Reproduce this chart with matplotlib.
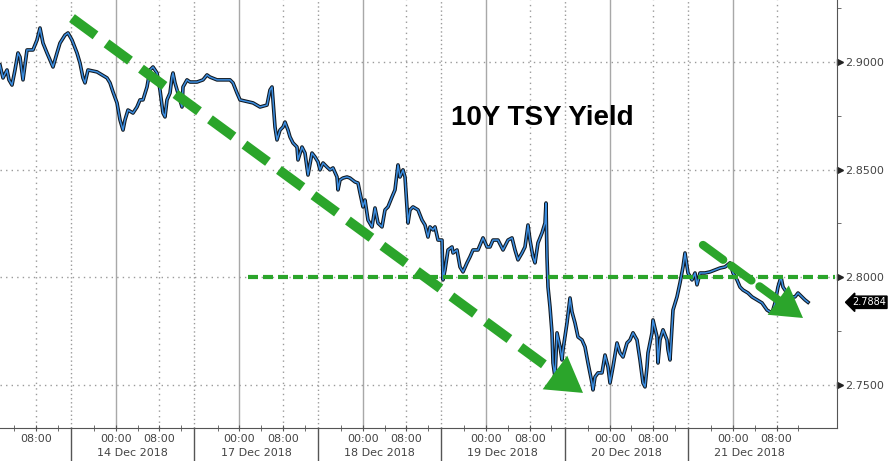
import matplotlib.pyplot as plt
import numpy as np

# 10Y Treasury yield, intraday; x = bar index on a gap-free trading-time axis
bars = [0, 3, 7, 9, 12, 15, 18, 20, 23, 27, 33, 37, 40, 43, 47, 53, 57, 60, 65, 68,
        72, 77, 80, 83, 85, 88, 97, 107, 110, 113, 117, 120, 123, 125, 128, 133, 137, 140, 143, 147,
        150, 153, 157, 160, 163, 165, 167, 170, 172, 173, 175, 180, 182, 183, 187, 190, 197, 203, 207, 210,
        217, 230, 233, 237, 240, 253, 260, 267, 270, 272, 273, 275, 277, 280, 283, 285, 288, 290, 293, 297,
        298, 302, 305, 308, 312, 315, 318, 320, 323, 327, 330, 333, 337, 338, 340, 343, 347, 350, 355, 358,
        360, 363, 365, 368, 372, 375, 378, 382, 385, 388, 392, 395, 398, 400, 403, 405, 408, 410, 413, 418,
        422, 425, 428, 430, 433, 435, 438, 442, 443, 445, 448, 452, 453, 457, 460, 463, 467, 470, 473, 478,
        483, 487, 490, 493, 498, 503, 508, 512, 515, 518, 522, 525, 528, 530, 533, 535, 538, 542, 545, 546,
        547, 548, 550, 552, 553, 555, 557, 560, 562, 563, 567, 570, 572, 575, 578, 582, 585, 588, 592, 593,
        595, 598, 602, 605, 608, 610, 613, 617, 620, 623, 627, 630, 633, 637, 640, 643, 645, 647, 648, 652,
        653, 657, 658, 660, 663, 667, 668, 670, 672, 673, 677, 680, 683, 685, 688, 692, 695, 697, 700, 705,
        710, 715, 720, 725, 730, 733, 737, 740, 743, 748, 752, 757, 762, 767, 772, 775, 778, 781, 783, 787,
        790, 795, 798, 802, 805, 808]
yields = [2.8986, 2.8926, 2.8963, 2.8917, 2.8893, 2.8963, 2.9042, 2.9023, 2.8917, 2.9056,
          2.9056, 2.9102, 2.9158, 2.9088, 2.9042, 2.8977, 2.9042, 2.9088, 2.9125, 2.9135,
          2.9102, 2.9042, 2.8995, 2.8926, 2.8903, 2.8963, 2.8954, 2.8926, 2.8903, 2.8861,
          2.8810, 2.8731, 2.8684, 2.8731, 2.8777, 2.8763, 2.8791, 2.8824, 2.8824, 2.8884,
          2.8963, 2.8977, 2.8949, 2.8870, 2.8763, 2.8745, 2.8824, 2.8856, 2.8930, 2.8949,
          2.8903, 2.8824, 2.8791, 2.8884, 2.8917, 2.8907, 2.8907, 2.8917, 2.8940, 2.8930,
          2.8917, 2.8917, 2.8903, 2.8856, 2.8824, 2.8810, 2.8791, 2.8800, 2.8870, 2.8884,
          2.8824, 2.8698, 2.8638, 2.8684, 2.8698, 2.8721, 2.8684, 2.8652, 2.8624, 2.8605,
          2.8545, 2.8605, 2.8577, 2.8475, 2.8577, 2.8559, 2.8536, 2.8499, 2.8531, 2.8512,
          2.8499, 2.8508, 2.8466, 2.8406, 2.8452, 2.8461, 2.8466, 2.8461, 2.8443, 2.8438,
          2.8392, 2.8327, 2.8359, 2.8266, 2.8234, 2.8322, 2.8252, 2.8234, 2.8313, 2.8327,
          2.8373, 2.8406, 2.8522, 2.8466, 2.8499, 2.8466, 2.8252, 2.8313, 2.8327, 2.8313,
          2.8266, 2.8243, 2.8187, 2.8234, 2.8220, 2.8234, 2.8173, 2.8173, 2.7988, 2.8034,
          2.8127, 2.8141, 2.8113, 2.8127, 2.8048, 2.8025, 2.8067, 2.8095, 2.8127, 2.8127,
          2.8183, 2.8141, 2.8141, 2.8173, 2.8173, 2.8127, 2.8173, 2.8183, 2.8127, 2.8081,
          2.8113, 2.8141, 2.8243, 2.8173, 2.8095, 2.8067, 2.8160, 2.8206, 2.8252, 2.8345,
          2.8095, 2.7955, 2.7862, 2.7742, 2.7602, 2.7537, 2.7742, 2.7677, 2.7616, 2.7663,
          2.7788, 2.7904, 2.7839, 2.7788, 2.7723, 2.7709, 2.7677, 2.7602, 2.7509, 2.7477,
          2.7537, 2.7556, 2.7556, 2.7639, 2.7584, 2.7509, 2.7584, 2.7695, 2.7649, 2.7630,
          2.7695, 2.7709, 2.7742, 2.7709, 2.7616, 2.7509, 2.7491, 2.7584, 2.7649, 2.7742,
          2.7802, 2.7723, 2.7602, 2.7709, 2.7756, 2.7709, 2.7663, 2.7616, 2.7770, 2.7848,
          2.7909, 2.7974, 2.8048, 2.8113, 2.8020, 2.7988, 2.8020, 2.7965, 2.8020, 2.8020,
          2.8025, 2.8034, 2.8043, 2.8048, 2.8067, 2.8020, 2.7988, 2.7955, 2.7941, 2.7927,
          2.7909, 2.7895, 2.7881, 2.7848, 2.7834, 2.7881, 2.7955, 2.8002, 2.7955, 2.7927,
          2.7909, 2.7909, 2.7927, 2.7909, 2.7895, 2.7884]

session_dates = ["13 Dec 2018", "14 Dec 2018", "17 Dec 2018", "18 Dec 2018",
                 "19 Dec 2018", "20 Dec 2018", "21 Dec 2018"]
ytick_vals = [2.75, 2.80, 2.85, 2.90]
ytick_minor = [2.775, 2.825, 2.875, 2.925]

# annotations (bar, yield)
big_arrow = [(72, 2.9204), (557, 2.7551), (583, 2.7463)]    # start, head base, tip
small_arrow = [(703, 2.8150), (780, 2.7888), (803, 2.7811)]
level_line = (248, 835, 2.80)

# axis geometry in bars
first_start = -52.4
session_len = 123.4
off_midnight = 45.0
off_eight = 88.5
per_hour = (off_eight - off_midnight) / 8.0

grey = '#444444'
green = '#2ba52b'

fig = plt.figure(figsize=(8.9, 4.61), dpi=100)
ax = fig.add_axes([0, 33 / 461, 837 / 890, 428 / 461])
ax.set_xlim(0, 837)
ax.set_ylim(2.7300, 2.9288)

starts = [first_start + k * session_len for k in range(len(session_dates))]
major_x, major_lbl, minor_x = [], [], []
for k, s in enumerate(starts):
    mid = s + off_midnight
    for pos, lbl in [(mid, '00:00'), (s + off_eight, '08:00')]:
        if 0 < pos < 837:
            major_x.append(pos)
            major_lbl.append(lbl)
    for h in (-4, 4, 12):
        p = mid + h * per_hour
        if 0 < p < 837 and s < p < s + session_len:
            minor_x.append(p)

# grid
for k, s in enumerate(starts):
    mid = s + off_midnight
    if 0 < mid < 837:
        ax.axvline(mid, color='#a8a8a8', lw=1.0, zorder=1)
    ax.axvline(s + off_eight, color='#9a9a9a', lw=1.0, ls=(0, (1, 3)), zorder=1)
    if k > 0:
        ax.axvline(s, color='#9a9a9a', lw=1.0, ls=(0, (1, 2)), zorder=1)
        ax.plot([s, s], [0, -0.075], color='#555555', lw=1.0,
                transform=ax.get_xaxis_transform(), clip_on=False)
        ax.text(s + session_len / 2, -0.058, session_dates[k], ha='center', va='center',
                fontsize=8, color=grey, transform=ax.get_xaxis_transform())
for y in ytick_vals:
    ax.axhline(y, color='#9a9a9a', lw=1.0, ls=(0, (1, 3)), zorder=1)

# yield line (dark underlay gives the bar look)
ax.plot(bars, yields, color='#101820', lw=2.6, zorder=3)
ax.plot(bars, yields, color='#3b8de0', lw=1.1, zorder=4)

# green annotations
(x0, y0), (xb, yb), (xt, yt) = big_arrow
ax.plot([x0, xb], [y0, yb], color=green, lw=7, dashes=(3.0, 1.4),
        solid_capstyle='butt', dash_capstyle='butt', zorder=5)
ax.annotate('', xy=(xt, yt), xytext=(xb, yb),
            arrowprops=dict(arrowstyle='-|>,head_length=1.25,head_width=0.75',
                            mutation_scale=20, color=green, lw=0,
                            shrinkA=0, shrinkB=0), zorder=5)
(x0, y0), (xb, yb), (xt, yt) = small_arrow
ax.plot([x0, xb], [y0, yb], color=green, lw=6, dashes=(3.0, 1.2),
        dash_capstyle='round', zorder=5)
ax.annotate('', xy=(xt, yt), xytext=(xb, yb),
            arrowprops=dict(arrowstyle='-|>,head_length=1.1,head_width=0.65',
                            mutation_scale=20, color=green, lw=0,
                            shrinkA=0, shrinkB=0), zorder=5)
ax.plot(level_line[:2], [level_line[2]] * 2, color=green, lw=3, dashes=(2.4, 1.2), zorder=5)

ax.text(0.6476, 0.7243, '10Y TSY Yield', transform=ax.transAxes, ha='center', va='center',
        fontsize=20, fontweight='bold', family='Liberation Sans', color='black')

# axes styling
for side in ('left', 'top'):
    ax.spines[side].set_visible(False)
for side in ('right', 'bottom'):
    ax.spines[side].set_color('#555555')
ax.yaxis.tick_right()
ax.set_yticks(ytick_vals)
ax.set_yticklabels([f'{v:.4f}' for v in ytick_vals])
ax.set_yticks(ytick_minor, minor=True)
ax.tick_params(axis='y', which='major', length=0, pad=6, labelsize=8, labelcolor=grey)
ax.tick_params(axis='y', which='minor', length=3, color='#555555')
ax.plot(np.full(len(ytick_vals), 1.0035), ytick_vals, ls='none', marker='>', ms=5,
        color='#222222', transform=ax.get_yaxis_transform(), clip_on=False)

ax.set_xticks(major_x)
ax.set_xticklabels(major_lbl)
ax.set_xticks(minor_x, minor=True)
ax.tick_params(axis='x', which='both', direction='inout', length=4, color='#555555',
               labelsize=8, labelcolor=grey, pad=2)

# last price tag
ax.text(1.0 + 15 / 837, yields[-1], f'{yields[-1]:.4f}', transform=ax.get_yaxis_transform(),
        ha='left', va='center', fontsize=7, color='white', clip_on=False,
        bbox=dict(boxstyle='larrow,pad=0.12', fc='black', ec='black'))

fig.savefig('out.png', dpi=100)
